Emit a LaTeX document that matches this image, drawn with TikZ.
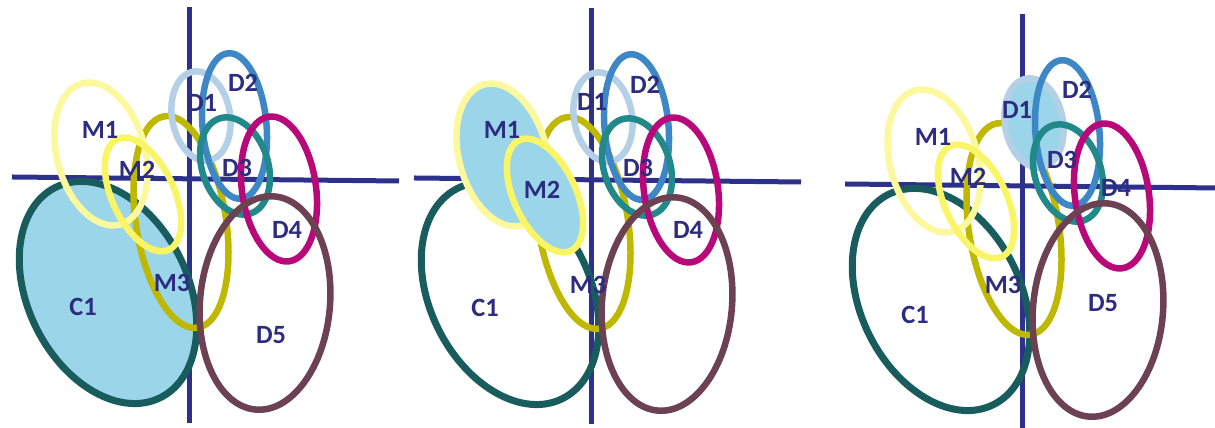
\documentclass[tikz,border=0pt]{standalone}
\usepackage{fontspec}
\setmainfont{Carlito}
\definecolor{axisblue}{RGB}{46,49,140}
\definecolor{txtblue}{RGB}{44,44,128}
\definecolor{shade}{RGB}{155,213,234}
\definecolor{cteal}{RGB}{24,92,94}
\definecolor{mpale}{RGB}{252,248,158}
\definecolor{myellow}{RGB}{249,245,102}
\definecolor{molive}{RGB}{190,184,0}
\definecolor{dsteel}{RGB}{180,208,230}
\definecolor{dblue}{RGB}{62,135,198}
\definecolor{dteal}{RGB}{33,137,138}
\definecolor{dmagenta}{RGB}{185,8,122}
\definecolor{dmauve}{RGB}{108,66,82}

\begin{document}
\begin{tikzpicture}[
  axis/.style={draw=axisblue, line width=0.5mm},
  oval/.style={line width=0.65mm},
  lbl/.style={text=txtblue, font=\fontsize{7.5}{9}\selectfont\bfseries, inner sep=0pt}]
  \useasboundingbox (0,0) rectangle (12.15,4.28);
  % Panel 1 (C1 shaded)
  \begin{scope}
    \draw[axis] (1.89,4.21) -- (1.89,0.05);
    \draw[axis] (0.12,2.51) -- (3.99,2.47);
    \draw[oval, draw=cteal, fill=shade, line width=0.7mm, rotate around={26.5:(1.08,1.355)}] (1.08,1.355) ellipse [x radius=0.80, y radius=1.175];
    \draw[oval, draw=molive, rotate around={9:(1.81,2.06)}] (1.81,2.06) ellipse [x radius=0.45, y radius=1.07];
    \draw[oval, draw=mpale, rotate around={15:(1.01,2.74)}] (1.01,2.74) ellipse [x radius=0.44, y radius=0.73];
    \draw[oval, draw=myellow, rotate around={25:(1.43,2.335)}] (1.43,2.335) ellipse [x radius=0.31, y radius=0.61];
    \draw[oval, draw=dsteel, rotate around={10:(2.01,3.12)}] (2.01,3.12) ellipse [x radius=0.29, y radius=0.45];
    \draw[oval, draw=dblue, rotate around={5:(2.345,3.02)}] (2.345,3.02) ellipse [x radius=0.32, y radius=0.73];
    \draw[oval, draw=dteal, rotate around={18:(2.35,2.62)}] (2.35,2.62) ellipse [x radius=0.33, y radius=0.50];
    \draw[oval, draw=dmagenta, rotate around={8:(2.79,2.39)}] (2.79,2.39) ellipse [x radius=0.37, y radius=0.73];
    \draw[oval, draw=dmauve, rotate around={-5:(2.65,1.25)}] (2.65,1.25) ellipse [x radius=0.65, y radius=1.07];
    \node[lbl] (p1-m1) at (1.00,2.98) {M1};
    \node[lbl] (p1-m2) at (1.37,2.58) {M2};
    \node[lbl] (p1-m3) at (1.72,1.45) {M3};
    \node[lbl] (p1-c1) at (0.83,1.21) {C1};
    \node[lbl] (p1-d1) at (2.02,3.25) {D1};
    \node[lbl] (p1-d2) at (2.43,3.45) {D2};
    \node[lbl] (p1-d3) at (2.37,2.60) {D3};
    \node[lbl] (p1-d4) at (2.87,1.98) {D4};
    \node[lbl] (p1-d5) at (2.71,0.93) {D5};
  \end{scope}
  % Panel 2 (M1 and M2 shaded)
  \begin{scope}[shift={(4.02,-0.01)}]
    \draw[axis] (1.89,4.21) -- (1.89,0.05);
    \draw[axis] (0.12,2.51) -- (3.99,2.47);
    \draw[oval, draw=cteal, line width=0.7mm, rotate around={26.5:(1.08,1.355)}] (1.08,1.355) ellipse [x radius=0.80, y radius=1.175];
    \draw[oval, draw=molive, rotate around={9:(1.81,2.06)}] (1.81,2.06) ellipse [x radius=0.45, y radius=1.07];
    \draw[oval, draw=mpale, fill=shade, rotate around={15:(1.01,2.74)}] (1.01,2.74) ellipse [x radius=0.44, y radius=0.73];
    \draw[oval, draw=myellow, fill=shade, rotate around={25:(1.43,2.335)}] (1.43,2.335) ellipse [x radius=0.31, y radius=0.61];
    \draw[oval, draw=dsteel, rotate around={10:(2.01,3.12)}] (2.01,3.12) ellipse [x radius=0.29, y radius=0.45];
    \draw[oval, draw=dblue, rotate around={5:(2.345,3.02)}] (2.345,3.02) ellipse [x radius=0.32, y radius=0.73];
    \draw[oval, draw=dteal, rotate around={18:(2.35,2.62)}] (2.35,2.62) ellipse [x radius=0.33, y radius=0.50];
    \draw[oval, draw=dmagenta, rotate around={8:(2.79,2.39)}] (2.79,2.39) ellipse [x radius=0.37, y radius=0.73];
    \draw[oval, draw=dmauve, rotate around={-5:(2.65,1.25)}] (2.65,1.25) ellipse [x radius=0.65, y radius=1.07];
    \node[lbl] (p2-m1) at (1.00,2.99) {M1};
    \node[lbl] (p2-m2) at (1.40,2.39) {M2};
    \node[lbl] (p2-m3) at (1.86,1.44) {M3};
    \node[lbl] (p2-c1) at (0.83,1.21) {C1};
    \node[lbl] (p2-d1) at (1.90,3.27) {D1};
    \node[lbl] (p2-d2) at (2.43,3.44) {D2};
    \node[lbl] (p2-d3) at (2.36,2.61) {D3};
    \node[lbl] (p2-d4) at (2.86,1.99) {D4};
  \end{scope}
  % Panel 3 (D1 shaded)
  \begin{scope}[shift={(8.33,-0.07)}]
    \draw[axis] (1.89,4.21) -- (1.89,0.07);
    \draw[axis] (0.12,2.51) -- (3.85,2.47);
    \draw[oval, draw=cteal, line width=0.7mm, rotate around={26.5:(1.08,1.355)}] (1.08,1.355) ellipse [x radius=0.80, y radius=1.175];
    \draw[oval, draw=molive, rotate around={9:(1.81,2.06)}] (1.81,2.06) ellipse [x radius=0.45, y radius=1.07];
    \draw[oval, draw=mpale, rotate around={15:(1.01,2.74)}] (1.01,2.74) ellipse [x radius=0.44, y radius=0.73];
    \draw[oval, draw=myellow, rotate around={25:(1.43,2.335)}] (1.43,2.335) ellipse [x radius=0.31, y radius=0.61];
    \draw[oval, draw=dsteel, fill=shade, rotate around={10:(2.01,3.12)}] (2.01,3.12) ellipse [x radius=0.29, y radius=0.45];
    \draw[oval, draw=dblue, rotate around={5:(2.345,3.02)}] (2.345,3.02) ellipse [x radius=0.32, y radius=0.73];
    \draw[oval, draw=dteal, rotate around={18:(2.35,2.62)}] (2.35,2.62) ellipse [x radius=0.33, y radius=0.50];
    \draw[oval, draw=dmagenta, rotate around={8:(2.79,2.39)}] (2.79,2.39) ellipse [x radius=0.37, y radius=0.73];
    \draw[oval, draw=dmauve, rotate around={-5:(2.65,1.25)}] (2.65,1.25) ellipse [x radius=0.65, y radius=1.07];
    \node[lbl] (p3-m1) at (1.00,2.98) {M1};
    \node[lbl] (p3-m2) at (1.35,2.58) {M2};
    \node[lbl] (p3-m3) at (1.70,1.50) {M3};
    \node[lbl] (p3-c1) at (0.82,1.20) {C1};
    \node[lbl] (p3-d1) at (1.84,3.25) {D1};
    \node[lbl] (p3-d2) at (2.44,3.45) {D2};
    \node[lbl] (p3-d3) at (2.29,2.75) {D3};
    \node[lbl] (p3-d4) at (2.83,2.47) {D4};
    \node[lbl] (p3-d5) at (2.70,1.32) {D5};
  \end{scope}
\end{tikzpicture}
\end{document}
